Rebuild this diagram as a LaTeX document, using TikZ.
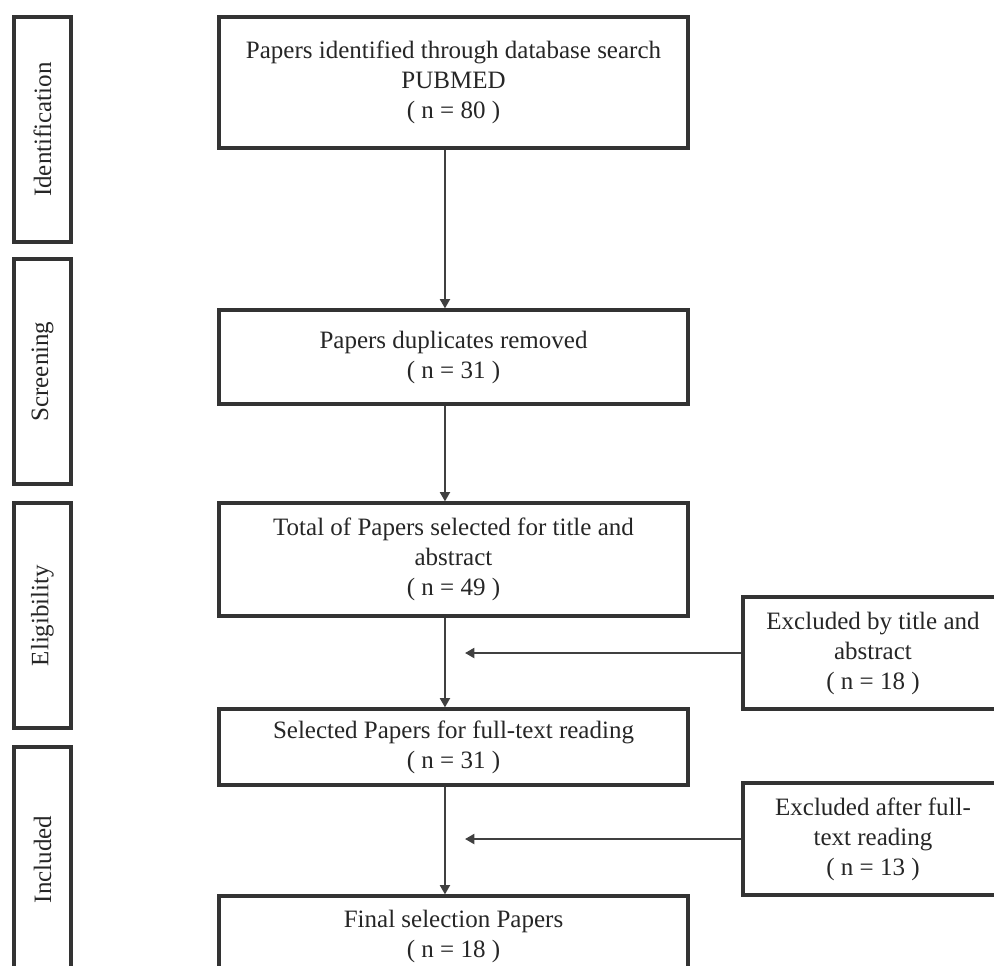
\documentclass[tikz,border=0pt]{standalone}
\usepackage{fontspec}
\setmainfont{Liberation Serif}
\usepackage{tikz}
\usetikzlibrary{positioning, arrows.meta, calc}

\begin{document}
\begin{tikzpicture}[
  x=0.75pt, y=-0.75pt,
  every node/.style={font=\fontsize{18.75}{22.5}\selectfont, text=black!85},
  box/.style={rectangle, draw=black!80, line width=2.4pt, align=center, inner sep=0pt},
  mainbox/.style={box, minimum width=351.75pt},
  sidebox/.style={box, minimum width=42.75pt, minimum height=168.75pt},
  exbox/.style={box, minimum width=195pt, minimum height=84pt},
  phase/.style={rotate=90},
  arr/.style={-{Triangle[length=7pt, width=7.5pt]}, draw=black!75, line width=1.5pt}
]
  \useasboundingbox (0,0) rectangle (994,965);
  \clip (0,0) rectangle (994,965);

  % Phases on the left
  \node[sidebox] (idbox) at (42.5,129.5) {};
  \node[phase] (idlbl) at (idbox) {Identification};
  \node[sidebox] (scbox) at (42.5,371.5) {};
  \node[phase] (sclbl) at (scbox) {Screening};
  \node[sidebox] (elbox) at (42.5,615.5) {};
  \node[phase] (ellbl) at (elbox) {Eligibility};
  \node[sidebox] (inbox) at (42.5,859.5) {};
  \node[phase] (inlbl) at (inbox) {Included};

  % Main flow
  \node[mainbox, minimum height=98.25pt] (found) at (453.5,82.5) {Papers identified through database search\\PUBMED\\( n = 80 )};
  \node[mainbox, minimum height=70.5pt] (dupl) at (453.5,357) {Papers duplicates removed\\( n = 31 )};
  \node[mainbox, minimum height=84.75pt] (total) at (453.5,559.5) {Total of Papers selected for title and\\abstract\\( n = 49 )};
  \node[mainbox, minimum height=57pt] (fulltext) at (453.5,747) {Selected Papers for full-text reading\\( n = 31 )};
  \node[mainbox, minimum height=60pt] (final) at (453.5,936) {Final selection Papers\\( n = 18 )};

  % Exclusions
  \node[exbox] (exabs) at (873,653) {Excluded by title and\\abstract\\( n = 18 )};
  \node[exbox] (exfull) at (873,839) {Excluded after full-\\text reading\\( n = 13 )};
  \coordinate (tipabs) at (465,653);
  \coordinate (tipfull) at (465,839);

  \draw[arr] ([xshift=-6.4pt]found.south) -- ([xshift=-6.4pt]dupl.north);
  \draw[arr] ([xshift=-6.4pt]dupl.south) -- ([xshift=-6.4pt]total.north);
  \draw[arr] ([xshift=-6.4pt]total.south) -- ([xshift=-6.4pt]fulltext.north);
  \draw[arr] ([xshift=-6.4pt]fulltext.south) -- ([xshift=-6.4pt]final.north);
  \draw[arr] (exabs.west) -- (tipabs);
  \draw[arr] (exfull.west) -- (tipfull);
\end{tikzpicture}
\end{document}
